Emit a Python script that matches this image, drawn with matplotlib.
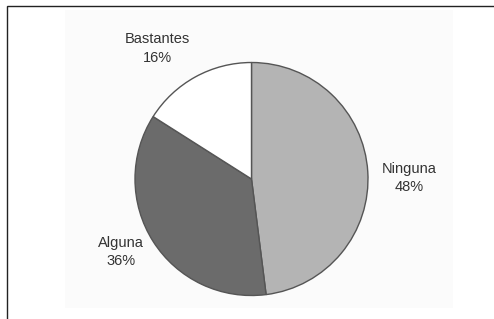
import matplotlib
matplotlib.use("Agg")
import matplotlib.pyplot as plt
from matplotlib.patches import Rectangle

categories = ["Ninguna", "Alguna", "Bastantes"]
values = [48, 36, 16]
colors = ["#b4b4b4", "#6b6b6b", "#ffffff"]

W, H = 494, 319
fig = plt.figure(figsize=(W / 100, H / 100), dpi=100)
fig.patch.set_facecolor("white")
ax = fig.add_axes([0, 0, 1, 1])
ax.set_xlim(0, W)
ax.set_ylim(0, H)
ax.set_aspect("equal")
ax.axis("off")

# faint plot-area background
ax.add_patch(Rectangle((65, H - 308), 388, 298, facecolor="#fbfbfb", edgecolor="none", zorder=0))

labels = [f"{c}\n{v}%" for c, v in zip(categories, values)]
wedges, texts = ax.pie(values, labels=labels, colors=colors, startangle=90, counterclock=False,
                       center=(251.5, H - 179), radius=116.5, labeldistance=1.35,
                       wedgeprops=dict(edgecolor="#555555", linewidth=1.0),
                       textprops=dict(fontsize=10.5, family="Liberation Sans", color="#333333",
                                      linespacing=1.4))
# label nudges (pixels) to match the original placement
nudges = [(1, -9), (2, 11), (-18, -7.5)]
for t, (dx, dy) in zip(texts, nudges):
    x, y = t.get_position()
    t.set_position((x + dx, y + dy))
    t.set_ha("center")
    t.set_va("center")
ax.set_xlim(0, W)
ax.set_ylim(0, H)

# outer frame (cropped at right and bottom)
fig.add_artist(Rectangle((7 / W, -0.05), 1.1, (H - 6) / H + 0.05, transform=fig.transFigure,
                         facecolor="none", edgecolor="#222222", linewidth=1.0))

fig.savefig("out.png", dpi=100, facecolor="white")
